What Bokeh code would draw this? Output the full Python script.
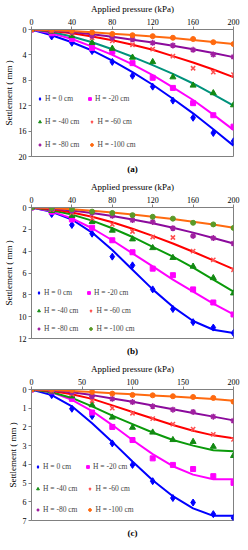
from bokeh.plotting import figure
from bokeh.models import Range1d, FixedTicker, Legend, LegendItem, Title
from bokeh.layouts import column
from bokeh.embed import file_html
from bokeh.resources import INLINE

pressure = [0, 20, 40, 60, 80, 100, 120, 140, 160, 180, 200]
labels = ["H = 0 cm", "H = -20 cm", "H = -40 cm", "H = -60 cm", "H = -80 cm", "H = -100 cm"]

# Panel (a) measured
a_h0 = [0, 1.1, 2.1, 3.4, 5.1, 7.3, 9.0, 11.2, 13.9, 16.3, 17.6]
a_h20 = [0, 0.6, 1.5, 2.9, 3.5, 5.3, 7.6, 9.2, 11.6, 13.5, 15.3]
a_h40 = [0, 0.3, 1.0, 2.1, 3.0, 4.4, 5.1, 7.5, 8.8, 10.0, 11.9]
a_h60 = [0, 0.2, 0.6, 1.3, 1.8, 2.4, 3.1, 4.2, 6.1, 6.7, 7.1]
a_h80 = [0, 0.1, 0.4, 1.0, 1.3, 1.55, 2.1, 2.5, 3.2, 3.95, 4.3]
a_h100 = [0, 0.05, 0.2, 0.45, 0.7, 0.9, 1.05, 1.3, 1.5, 2.0, 2.3]
# Panel (a) trend curves
a_f0 = [0, 0.9, 2.0, 3.3, 4.9, 6.7, 8.7, 10.9, 13.2, 15.7, 18.3]
a_f20 = [0, 0.6, 1.5, 2.7, 4.0, 5.5, 7.2, 9.1, 11.1, 13.4, 15.8]
a_f40 = [0, 0.4, 1.1, 2.0, 3.1, 4.3, 5.6, 7.0, 8.5, 10.2, 12.0]
a_f60 = [0, 0.25, 0.6, 1.1, 1.7, 2.4, 3.2, 4.2, 5.2, 6.3, 7.5]
a_f80 = [0, 0.15, 0.4, 0.75, 1.15, 1.6, 2.05, 2.55, 3.1, 3.7, 4.35]
a_f100 = [0, 0.1, 0.25, 0.45, 0.65, 0.85, 1.1, 1.35, 1.65, 1.95, 2.3]

# Panel (b) measured
b_h0 = [0, 0.6, 1.6, 2.4, 4.5, 5.3, 7.5, 9.3, 10.5, 11.0, 11.5]
b_h20 = [0, 0.4, 1.1, 1.85, 3.0, 4.1, 5.6, 6.2, 7.5, 8.7, 9.8]
b_h40 = [0, 0.3, 0.75, 1.3, 2.1, 2.9, 3.7, 4.6, 5.4, 6.45, 7.85]
b_h60 = [0, 0.2, 0.5, 1.0, 1.55, 2.2, 2.7, 2.75, 4.0, 4.8, 5.7]
b_h80 = [0, 0.1, 0.3, 0.5, 0.76, 1.15, 1.32, 1.9, 2.6, 2.8, 3.3]
b_h100 = [0, 0.05, 0.15, 0.38, 0.5, 0.7, 0.85, 1.02, 1.4, 1.55, 1.87]
# Panel (b) trend curves
b_f0 = [0, 0.4, 1.1, 2.3, 3.9, 5.7, 7.5, 9.1, 10.4, 11.2, 11.5]
b_f20 = [0, 0.35, 1.0, 1.9, 3.0, 4.2, 5.4, 6.6, 7.7, 8.8, 9.8]
b_f40 = [0, 0.25, 0.65, 1.2, 1.9, 2.7, 3.6, 4.5, 5.5, 6.6, 7.7]
b_f60 = [0, 0.15, 0.45, 0.85, 1.35, 1.95, 2.6, 3.3, 4.05, 4.85, 5.65]
b_f80 = [0, 0.1, 0.28, 0.5, 0.78, 1.1, 1.45, 1.85, 2.3, 2.8, 3.3]
b_f100 = [0, 0.05, 0.15, 0.3, 0.45, 0.65, 0.85, 1.05, 1.3, 1.55, 1.85]

# Panel (c) measured
c_h0 = [0, 0.3, 1.03, 1.42, 2.88, 4.03, 4.9, 5.8, 6.04, 6.66, 6.86]
c_h20 = [0, 0.1, 0.5, 1.23, 2.0, 2.7, 3.68, 4.03, 4.25, 4.63, 4.99]
c_h40 = [0, 0.1, 0.36, 0.83, 1.49, 2.03, 2.29, 2.69, 2.79, 3.05, 3.54]
c_h60 = [0, 0.05, 0.25, 0.6, 1.0, 1.27, 1.56, 1.85, 2.12, 2.4, 2.67]
c_h80 = [0, 0.03, 0.15, 0.36, 0.5, 0.67, 0.9, 1.08, 1.2, 1.45, 1.67]
c_h100 = [0, 0.0, 0.03, 0.13, 0.22, 0.29, 0.31, 0.36, 0.4, 0.45, 0.65]
# Panel (c) trend curves
c_f0 = [0, 0.3, 0.9, 1.8, 2.8, 3.85, 4.85, 5.7, 6.35, 6.75, 6.75]
c_f20 = [0, 0.15, 0.55, 1.15, 1.9, 2.7, 3.45, 4.1, 4.55, 4.8, 4.8]
c_f40 = [0, 0.15, 0.45, 0.9, 1.4, 1.85, 2.3, 2.7, 3.0, 3.25, 3.3]
c_f60 = [0, 0.08, 0.25, 0.5, 0.85, 1.2, 1.55, 1.9, 2.2, 2.45, 2.6]
c_f80 = [0, 0.05, 0.15, 0.3, 0.48, 0.66, 0.85, 1.05, 1.25, 1.45, 1.65]
c_f100 = [0, 0.03, 0.08, 0.14, 0.2, 0.26, 0.32, 0.38, 0.44, 0.51, 0.6]

FONT = "Liberation Serif"
markers = ["diamond", "square", "triangle", "x", "asterisk", "circle"]
msizes = [7, 5, 6, 6, 6, 5]
line_colors = ["#0000FF", "#FF00FF", "#0A9A2A", "#FF0000", "#8B0A9C", "#FF6A10"]
marker_colors = ["#0000FF", "#FF00FF", "#128A12", "#FF5050", "#A020A0", "#FF6A10"]


def panel(letter, measured, fitted, ymax, yticks, xticks, height, green_line,
          last_marker_color, leg_x, leg_y):
    p = figure(width=240, height=height, output_backend="svg", toolbar_location=None,
               x_range=Range1d(0, 200), y_range=Range1d(ymax, 0),
               x_axis_location="above", min_border_left=2, min_border_right=7,
               min_border_top=2, min_border_bottom=2)
    p.xgrid.visible = False
    p.ygrid.visible = False
    p.outline_line_color = "#808080"
    p.outline_line_width = 1
    p.background_fill_color = "white"
    p.border_fill_color = "white"
    for ax in (p.xaxis[0], p.yaxis[0]):
        ax.axis_line_color = "#808080"
        ax.major_tick_line_color = "#808080"
        ax.minor_tick_line_color = None
        ax.major_tick_out = 3
        ax.major_tick_in = 0
        ax.major_label_text_font = FONT
        ax.major_label_text_font_size = "8px"
        ax.major_label_text_color = "#000000"
        ax.axis_label_text_font = FONT
        ax.axis_label_text_font_style = "normal"
        ax.axis_label_text_font_size = "9px"
        ax.axis_label_text_color = "#000000"
        ax.major_label_standoff = 2
        ax.axis_label_standoff = 2
    p.xaxis.ticker = FixedTicker(ticks=xticks)
    p.yaxis.ticker = FixedTicker(ticks=yticks)
    p.xaxis.axis_label = "Applied pressure (kPa)"
    p.yaxis.axis_label = "Settlement ( mm )"

    lc = list(line_colors)
    lc[2] = green_line
    mc = list(marker_colors)
    mc[5] = last_marker_color
    rends = []
    for i in range(6):
        p.line(pressure, fitted[i], line_color=lc[i], line_width=2)
    for i in range(6):
        r = p.scatter(pressure, measured[i], marker=markers[i], size=msizes[i],
                      fill_color=mc[i], line_color=mc[i],
                      line_width=1.5 if markers[i] in ("x", "asterisk") else 1)
        rends.append(r)
    for row in range(3):
        items = [LegendItem(label=labels[2 * row + k], renderers=[rends[2 * row + k]]) for k in range(2)]
        leg = Legend(items=items, orientation="horizontal", location=(leg_x, leg_y[row]),
                     background_fill_alpha=0, border_line_color=None,
                     label_text_font=FONT, label_text_font_size="7.5px",
                     glyph_width=7, glyph_height=7, label_standoff=2, spacing=9,
                     label_width=32, padding=0, margin=0, label_height=7)
        p.add_layout(leg)
    p.add_layout(Title(text=letter, align="center", text_font=FONT, text_font_style="bold",
                       text_font_size="9px", text_color="#000000"), "below")
    return p


pa = panel("(a)", [a_h0, a_h20, a_h40, a_h60, a_h80, a_h100],
           [a_f0, a_f20, a_f40, a_f60, a_f80, a_f100],
           20, [0, 4, 8, 12, 16, 20], [0, 40, 80, 120, 160, 200], 178, "#00927C", "#FF6A10",
           5, [53, 30, 7])
pb = panel("(b)", [b_h0, b_h20, b_h40, b_h60, b_h80, b_h100],
           [b_f0, b_f20, b_f40, b_f60, b_f80, b_f100],
           12, [0, 2, 4, 6, 8, 10, 12], [0, 40, 80, 120, 160, 200], 182, "#0A9A0A", "#5A9A28",
           4, [41, 23, 5])
pc = panel("(c)", [c_h0, c_h20, c_h40, c_h60, c_h80, c_h100],
           [c_f0, c_f20, c_f40, c_f60, c_f80, c_f100],
           7, [0, 1, 2, 3, 4, 5, 6, 7], [0, 50, 100, 150, 200], 182, "#0A9A0A", "#FF6A10",
           3, [49, 27, 6])

layout = column(pa, pb, pc, spacing=0)
open("out.html", "w").write(file_html(layout, INLINE))
